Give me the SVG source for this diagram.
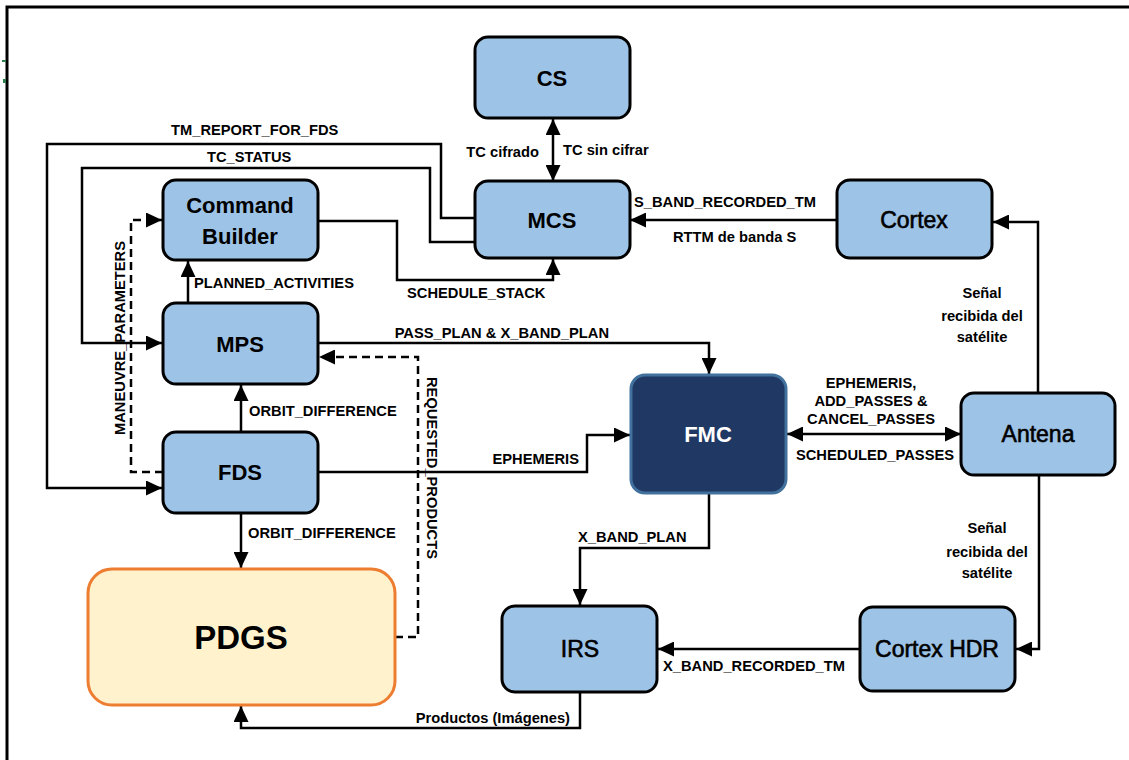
<svg xmlns="http://www.w3.org/2000/svg" width="1129" height="760" viewBox="0 0 1129 760">
<style>
.box{fill:#9dc3e6;stroke:#000;stroke-width:3}
.nt{font-family:"Liberation Sans",Arial,sans-serif;font-size:22px;font-weight:bold;fill:#000;text-anchor:middle;dominant-baseline:central}
.nr{font-family:"Liberation Sans",Arial,sans-serif;font-size:23px;font-weight:normal;fill:#000;stroke:#000;stroke-width:0.6;text-anchor:middle;dominant-baseline:central}
.ln{fill:none;stroke:#000;stroke-width:2.5}
.ds{fill:none;stroke:#000;stroke-width:2.5;stroke-dasharray:8 5}
.lb{font-family:"Liberation Sans",Arial,sans-serif;font-size:14.7px;font-weight:bold;fill:#000}
.m{text-anchor:middle}
.e{text-anchor:end}
</style>
<defs>
<marker id="ah" markerUnits="userSpaceOnUse" markerWidth="17" markerHeight="15" refX="16" refY="7.5" orient="auto-start-reverse">
<path d="M0,0 L16,7.5 L0,15 z" fill="#000"/>
</marker>
</defs>
<rect x="0" y="0" width="1129" height="760" fill="#fff"/>
<g id="frame">
<path d="M7,760 V7 H1129" fill="none" stroke="#000" stroke-width="3"/>
<rect x="2" y="60" width="4" height="2" fill="#2e7d4f"/>
<rect x="3" y="79" width="3" height="4" fill="#2e7d4f"/>
</g>
<g id="connectors">
<path class="ln" d="M553,119 V181" marker-start="url(#ah)" marker-end="url(#ah)"/>
<path class="ln" d="M837,220 H630" marker-end="url(#ah)"/>
<path class="ln" d="M1038,393 V222 H993" marker-end="url(#ah)"/>
<path class="ln" d="M1039,475 V649 H1016" marker-end="url(#ah)"/>
<path class="ln" d="M860,649 H658" marker-end="url(#ah)"/>
<path class="ln" d="M709,493 V548 H580 V605" marker-end="url(#ah)"/>
<path class="ln" d="M580,692 V728 H241 V706" marker-end="url(#ah)"/>
<path class="ln" d="M241,513 V568" marker-end="url(#ah)"/>
<path class="ds" d="M395,637 H418 V357 H319" marker-end="url(#ah)"/>
<path class="ln" d="M318,472 H587 V435 H630" marker-end="url(#ah)"/>
<path class="ln" d="M318,343 H709 V374" marker-end="url(#ah)"/>
<path class="ln" d="M787,434 H961" marker-start="url(#ah)" marker-end="url(#ah)"/>
<path class="ln" d="M241,432 V385" marker-end="url(#ah)"/>
<path class="ln" d="M188,303 V261" marker-end="url(#ah)"/>
<path class="ln" d="M318,221 H397 V280 H553 V259" marker-end="url(#ah)"/>
<path class="ln" d="M475,218 H441 V144 H47 V488 H162" marker-end="url(#ah)"/>
<path class="ln" d="M475,242 H430 V168 H82 V343 H162" marker-end="url(#ah)"/>
<path class="ds" d="M163,472 H131 V220 H162" marker-end="url(#ah)"/>
</g>
<g id="labels">
<text class="lb" x="171" y="135">TM_REPORT_FOR_FDS</text>
<text class="lb" x="207" y="162">TC_STATUS</text>
<text class="lb e" x="539" y="157">TC cifrado</text>
<text class="lb" x="563" y="155">TC sin cifrar</text>
<text class="lb" x="634" y="207">S_BAND_RECORDED_TM</text>
<text class="lb" x="673" y="242">RTTM de banda S</text>
<text class="lb" x="194" y="288">PLANNED_ACTIVITIES</text>
<text class="lb" x="407" y="298">SCHEDULE_STACK</text>
<text class="lb e" x="609" y="338">PASS_PLAN &amp; X_BAND_PLAN</text>
<text class="lb" x="249" y="416">ORBIT_DIFFERENCE</text>
<text class="lb" x="248" y="538">ORBIT_DIFFERENCE</text>
<text class="lb e" x="579" y="464">EPHEMERIS</text>
<text class="lb m" x="871" y="388">EPHEMERIS,</text>
<text class="lb m" x="871" y="406">ADD_PASSES &amp;</text>
<text class="lb m" x="871" y="424">CANCEL_PASSES</text>
<text class="lb m" x="875" y="460">SCHEDULED_PASSES</text>
<text class="lb m" x="982" y="298">Señal</text>
<text class="lb m" x="982" y="321">recibida del</text>
<text class="lb m" x="982" y="342">satélite</text>
<text class="lb m" x="987" y="533">Señal</text>
<text class="lb m" x="987" y="557">recibida del</text>
<text class="lb m" x="987" y="578">satélite</text>
<text class="lb" x="578" y="542">X_BAND_PLAN</text>
<text class="lb" x="663" y="671">X_BAND_RECORDED_TM</text>
<text class="lb e" x="570" y="723">Productos (Imágenes)</text>
<text class="lb m" x="0" y="0" dominant-baseline="central" transform="translate(432,468) rotate(90)">REQUESTED_PRODUCTS</text>
<text class="lb m" x="0" y="0" dominant-baseline="central" transform="translate(120,338) rotate(-90)">MANEUVRE_PARAMETERS</text>
</g>
<g id="CS"><rect class="box" x="475" y="37" width="155" height="81" rx="13"/><text class="nt" x="552" y="78">CS</text></g>
<g id="MCS"><rect class="box" x="475" y="181" width="155" height="77" rx="13"/><text class="nt" x="552" y="220">MCS</text></g>
<g id="CommandBuilder"><rect class="box" x="163" y="180" width="155" height="80" rx="13"/><text class="nt" x="240" y="205">Command</text><text class="nt" x="240" y="236">Builder</text></g>
<g id="Cortex"><rect class="box" x="837" y="180" width="155" height="78" rx="13"/><text class="nr" x="914" y="220">Cortex</text></g>
<g id="MPS"><rect class="box" x="163" y="303" width="155" height="81" rx="13"/><text class="nt" x="240" y="344">MPS</text></g>
<g id="FDS"><rect class="box" x="163" y="432" width="155" height="81" rx="13"/><text class="nt" x="240" y="472">FDS</text></g>
<g id="FMC"><rect x="631" y="375" width="155" height="118" rx="14" fill="#203864" stroke="#41719c" stroke-width="3"/><text class="nt" x="708" y="434" style="fill:#fff">FMC</text></g>
<g id="Antena"><rect class="box" x="961" y="393" width="154" height="82" rx="13"/><text class="nr" x="1038" y="434">Antena</text></g>
<g id="PDGS"><rect x="88" y="569" width="307" height="136" rx="24" fill="#fff2cc" stroke="#ed7d31" stroke-width="3"/><text class="nt" x="241" y="637" style="font-size:33px">PDGS</text></g>
<g id="IRS"><rect class="box" x="502" y="606" width="155" height="86" rx="13"/><text class="nr" x="580" y="649">IRS</text></g>
<g id="CortexHDR"><rect class="box" x="860" y="607" width="155" height="84" rx="13"/><text class="nr" x="937" y="649">Cortex HDR</text></g>
</svg>
